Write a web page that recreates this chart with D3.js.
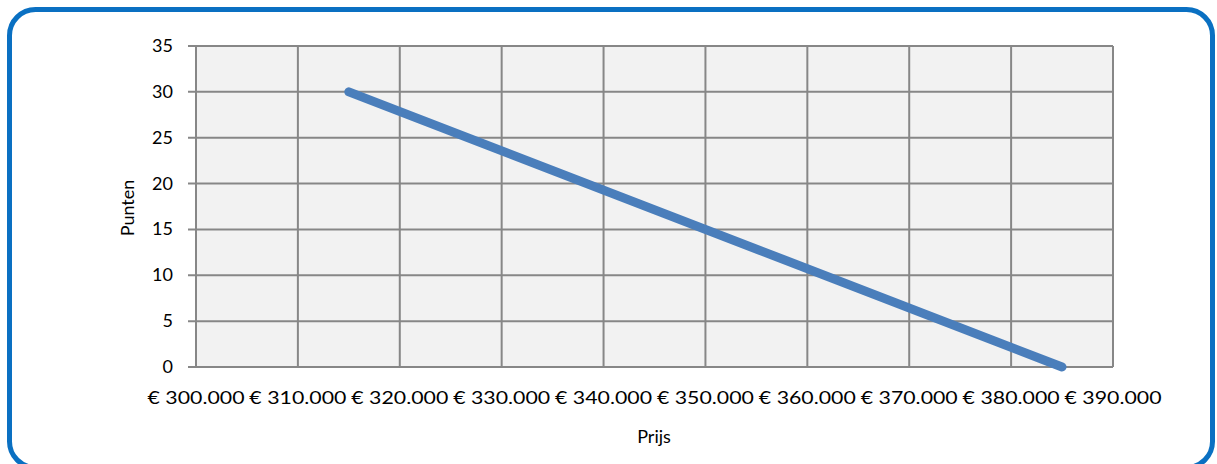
<!DOCTYPE html>
<html><head><meta charset="utf-8">
<script src="https://cdn.jsdelivr.net/npm/d3@7"></script>
<style>html,body{margin:0;padding:0;background:#fff;}svg{display:block;}</style>
</head><body>
<svg id="c" width="1217" height="464"></svg>
<script>
const prices = [315000, 385000];
const points = [30, 0];
const xTicks = [300000, 310000, 320000, 330000, 340000, 350000, 360000, 370000, 380000, 390000];
const yTicks = [0, 5, 10, 15, 20, 25, 30, 35];
const xTitle = "Prijs";
const yTitle = "Punten";

const svg = d3.select("#c");
const font = "Lato, 'Open Sans', sans-serif";
svg.append("rect").attr("x", 9.5).attr("y", 9.5).attr("width", 1203).attr("height", 458)
  .attr("rx", 26).attr("ry", 26).attr("fill", "#fff").attr("stroke", "#0A70C2").attr("stroke-width", 5);

const L = 196, R = 1113, T = 46, B = 367;
const x = d3.scaleLinear().domain([300000, 390000]).range([L, R]);
const y = d3.scaleLinear().domain([0, 35]).range([B, T]);

const g = svg.append("g");
g.append("rect").attr("x", L).attr("y", T).attr("width", R - L).attr("height", B - T).attr("fill", "#F2F2F2");

g.selectAll(".gy").data(yTicks).join("line")
  .attr("x1", L - 8).attr("x2", R).attr("y1", d => y(d)).attr("y2", d => y(d))
  .attr("stroke", "#878787").attr("stroke-width", 2);
g.selectAll(".gx").data(xTicks).join("line")
  .attr("x1", d => x(d)).attr("x2", d => x(d)).attr("y1", T).attr("y2", B)
  .attr("stroke", "#878787").attr("stroke-width", 2);

const fmt = d => "€ " + d3.format(",")(d).replace(/,/g, ".");
g.selectAll(".xl").data(xTicks).join("text")
  .attr("x", d => x(d)).attr("y", 404).attr("text-anchor", "middle")
  .attr("font-family", font).attr("font-size", 18).attr("fill", "#000")
  .attr("textLength", 97).attr("lengthAdjust", "spacingAndGlyphs")
  .text(fmt);
g.selectAll(".yl").data(yTicks).join("text")
  .attr("x", 173).attr("y", d => y(d) + 6).attr("text-anchor", "end")
  .attr("font-family", font).attr("font-size", 18).attr("fill", "#000")
  .text(d => d);

const line = d3.line().x((d, i) => x(prices[i])).y(d => y(d));
g.append("path").datum(points).attr("d", line).attr("fill", "none")
  .attr("stroke", "#4A7EBB").attr("stroke-width", 9).attr("stroke-linecap", "round");

svg.append("text").attr("x", 654).attr("y", 443).attr("text-anchor", "middle")
  .attr("font-family", font).attr("font-size", 18).text(xTitle);
svg.append("text").attr("transform", "translate(134,208) rotate(-90)").attr("text-anchor", "middle")
  .attr("font-family", font).attr("font-size", 18).text(yTitle);
</script>
</body></html>
